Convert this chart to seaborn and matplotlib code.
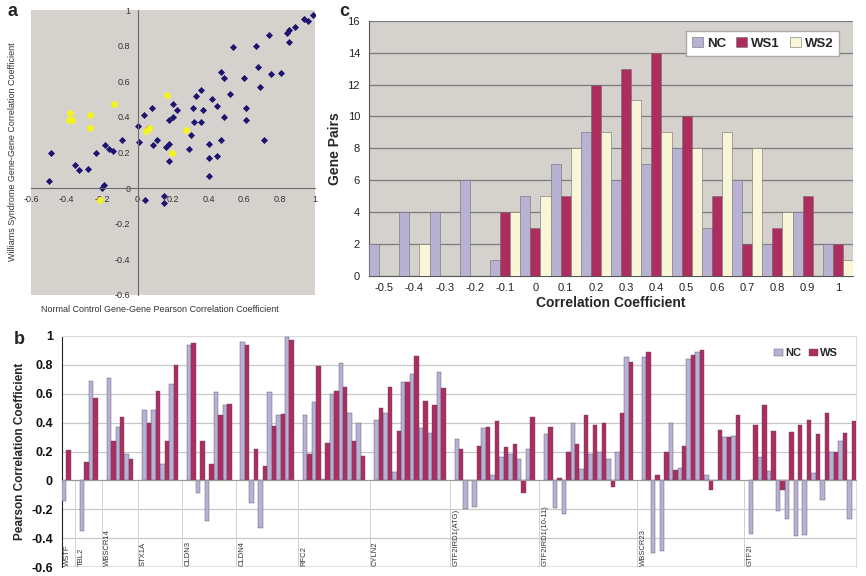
import numpy as np
import pandas as pd
import matplotlib
matplotlib.use("Agg")
import matplotlib.pyplot as plt
import seaborn as sns

sns.set_style("white")
plt.rcParams['font.family'] = ['Liberation Sans', 'DejaVu Sans']

# gene groups of panel b (pairs with each earlier gene)
genes = ["WSTF", "TBL2", "WBSCR14", "STX1A", "CLDN3", "CLDN4", "RFC2", "CYLN2",
         "GTF2IRD1(ATG)", "GTF2IRD1(10-11)", "WBSCR23", "GTF2I"]

nc_vals = [
    [-0.14],
    [-0.35, 0.69],
    [0.71, 0.37, 0.18],
    [0.49, 0.49, 0.11, 0.67],
    [0.94, -0.09, -0.28, 0.61, 0.52],
    [0.96, -0.16, -0.33, 0.61, 0.45, 0.99],
    [0.45, 0.54, 0.01, 0.60, 0.81, 0.47, 0.40],
    [0.42, 0.47, 0.06, 0.68, 0.74, 0.36, 0.33, 0.75],
    [0.29, -0.20, -0.185, 0.36, 0.035, 0.16, 0.18, 0.15, 0.22],
    [0.32, -0.19, -0.235, 0.40, 0.08, 0.18, 0.20, 0.15, 0.20, 0.855],
    [0.855, -0.50, -0.49, 0.40, 0.085, 0.84, 0.89, 0.04, 0.0, 0.30, 0.31],
    [-0.37, 0.165, 0.065, -0.21, -0.27, -0.385, -0.38, 0.05, -0.135, 0.195, 0.275, -0.27],
]
ws_vals = [
    [0.21],
    [0.13, 0.57],
    [0.27, 0.44, 0.15],
    [0.40, 0.62, 0.27, 0.80],
    [0.95, 0.27, 0.11, 0.45, 0.53],
    [0.94, 0.22, 0.10, 0.38, 0.46, 0.97],
    [0.18, 0.79, 0.26, 0.62, 0.645, 0.27, 0.17],
    [0.50, 0.65, 0.34, 0.68, 0.86, 0.55, 0.52, 0.64],
    [0.22, 0.0, 0.24, 0.37, 0.41, 0.23, 0.25, -0.085, 0.44],
    [0.37, 0.015, 0.20, 0.25, 0.45, 0.385, 0.40, -0.045, 0.47, 0.82],
    [0.89, 0.04, 0.195, 0.07, 0.24, 0.87, 0.905, -0.065, 0.35, 0.30, 0.45],
    [0.385, 0.525, 0.34, -0.065, 0.335, 0.385, 0.42, 0.32, 0.47, 0.20, 0.325, 0.41],
]

# panel c histogram counts
bins = ["-0.5", "-0.4", "-0.3", "-0.2", "-0.1", "0", "0.1", "0.2", "0.3", "0.4",
        "0.5", "0.6", "0.7", "0.8", "0.9", "1"]
nc_counts = [2, 4, 4, 6, 1, 5, 7, 9, 6, 7, 8, 3, 6, 2, 4, 2]
ws1_counts = [0, 0, 0, 0, 4, 3, 5, 12, 13, 14, 10, 5, 2, 3, 5, 2]
ws2_counts = [0, 2, 0, 0, 4, 5, 8, 9, 11, 9, 8, 9, 8, 4, 0, 1]

C_NC = "#b3acd9"
C_WS = "#c2185b"
C_WS2 = "#fffbd2"
C_BG = "#d5d1cd"

# slots for panel b: one empty slot between gene groups
rows = []
group_start = []
slot = 0
for gi, g in enumerate(genes):
    group_start.append(slot)
    for a, b in zip(nc_vals[gi], ws_vals[gi]):
        rows.append((slot, "NC", a, g))
        rows.append((slot, "WS", b, g))
        slot += 1
    if gi < len(genes) - 1:
        slot += 1
n_slots = slot
dfb = pd.DataFrame(rows, columns=["slot", "series", "value", "gene"])

fig = plt.figure(figsize=(8.66, 5.76), dpi=100)

# ---------------- panel a ----------------
ax_a = fig.add_axes([31 / 866, 1 - 295 / 576, 284 / 866, 285 / 576])
ax_a.set_facecolor(C_BG)
dfa = pd.DataFrame({
    "NC": [v for g in nc_vals for v in g],
    "WS": [v for g in ws_vals for v in g],
    "grp": [("GTF2I" if genes[i] == "GTF2I" else "other")
            for i, g in enumerate(nc_vals) for _ in g],
})
sns.scatterplot(data=dfa[dfa.grp == "other"], x="NC", y="WS", ax=ax_a,
                color="#1c1470", marker="D", s=13, linewidth=0, legend=False)
sns.scatterplot(data=dfa[dfa.grp == "GTF2I"], x="NC", y="WS", ax=ax_a,
                color="#f4f41c", marker="o", s=24, linewidth=0, legend=False)
ax_a.set_xlim(-0.6, 1.0)
ax_a.set_ylim(-0.6, 1.0)
for s in ["top", "right"]:
    ax_a.spines[s].set_visible(False)
for s in ["left", "bottom"]:
    ax_a.spines[s].set_position(("data", 0))
    ax_a.spines[s].set_color("#6a6a6a")
    ax_a.spines[s].set_linewidth(0.8)
ticks_a = np.round(np.arange(-0.6, 1.01, 0.2), 1)
labs_a = ["0" if t == 0 else ("1" if t == 1 else f"{t:g}") for t in ticks_a]
ax_a.set_xticks(ticks_a, labs_a)
ax_a.set_yticks(ticks_a, labs_a)
ax_a.tick_params(labelsize=6.5, labelcolor="#333333", length=3, color="#6a6a6a",
                 direction="out", width=0.6, pad=2)
ax_a.set_xlabel("")
ax_a.set_ylabel("")
fig.text(160 / 866, 1 - 309 / 576, "Normal Control Gene-Gene Pearson Correlation Coefficient",
         ha="center", va="center", fontsize=6.5, color="#333333")
fig.text(13 / 866, 1 - 152 / 576, "Williams Syndrome Gene-Gene Correlation Coefficient",
         ha="center", va="center", rotation=90, fontsize=6.5, color="#333333")

# ---------------- panel c ----------------
ax_c = fig.add_axes([369 / 866, 1 - 276 / 576, 484 / 866, 255.3 / 576])
ax_c.set_facecolor(C_BG)
dfc = pd.DataFrame({
    "bin": bins * 3,
    "count": nc_counts + ws1_counts + ws2_counts,
    "series": ["NC"] * 16 + ["WS1"] * 16 + ["WS2"] * 16,
})
sns.barplot(data=dfc, x="bin", y="count", hue="series", order=bins,
            hue_order=["NC", "WS1", "WS2"],
            palette={"NC": C_NC, "WS1": C_WS, "WS2": C_WS2},
            width=1.0, gap=0, edgecolor="#6e6e6e", linewidth=0.4,
            errorbar=None, ax=ax_c, zorder=3)
ax_c.set_ylim(0, 16)
ax_c.set_xlim(-0.5, 15.42)
ax_c.set_yticks(range(0, 17, 2))
ax_c.yaxis.grid(True, color="#7c7c7c", linewidth=0.9, zorder=0)
ax_c.set_axisbelow(True)
ax_c.set_xticks(np.arange(-0.5, 16, 1), minor=True)
ax_c.tick_params(axis="x", which="major", length=0, labelsize=8, pad=5, labelcolor="#222222")
ax_c.tick_params(axis="x", which="minor", length=3, color="#555555", direction="out")
ax_c.tick_params(axis="y", length=3, color="#555555", direction="out", labelsize=8,
                 labelcolor="#222222")
for s in ["top", "right"]:
    ax_c.spines[s].set_visible(False)
for s in ["left", "bottom"]:
    ax_c.spines[s].set_color("#555555")
    ax_c.spines[s].set_linewidth(0.8)
ax_c.set_xlabel("Correlation Coefficient", fontsize=10, fontweight="bold", labelpad=2)
ax_c.set_ylabel("Gene Pairs", fontsize=10, fontweight="bold", labelpad=4)
sns.move_legend(ax_c, "upper right", bbox_to_anchor=(0.985, 0.985), ncol=3, title=None,
                frameon=True, fancybox=False, edgecolor="#aaaaaa", framealpha=1,
                prop={"weight": "bold", "size": 9.5}, handlelength=0.8, handleheight=0.8,
                handletextpad=0.3, columnspacing=0.8, borderpad=0.45)

# ---------------- panel b ----------------
ax_b = fig.add_axes([62 / 866, 1 - 567 / 576, 794 / 866, 231 / 576])
sns.barplot(data=dfb, x="slot", y="value", hue="series", order=list(range(n_slots)),
            hue_order=["NC", "WS"], palette={"NC": C_NC, "WS": C_WS},
            width=1.0, gap=0, edgecolor="#5e4a66", linewidth=0.3,
            errorbar=None, ax=ax_b, zorder=3)
ax_b.set_xlim(-0.5, n_slots - 0.5)
ax_b.set_ylim(-0.6, 1.0)
yt = np.round(np.arange(-0.6, 1.01, 0.2), 1)
ax_b.set_yticks(yt, ["0" if t == 0 else ("1" if t == 1 else f"{t:g}") for t in yt])
ax_b.yaxis.grid(True, color="#c8c8c8", linewidth=0.9, zorder=0)
ax_b.set_axisbelow(True)
ax_b.spines["bottom"].set_position(("data", 0))
ax_b.spines["bottom"].set_color("#9a9a9a")
ax_b.spines["bottom"].set_zorder(4)
ax_b.spines["top"].set_color("#dcdcdc")
ax_b.spines["right"].set_color("#dcdcdc")
ax_b.spines["left"].set_color("#222222")
ax_b.axhline(-0.6, color="#dcdcdc", linewidth=1.2, zorder=1)
ax_b.set_xticks(np.arange(-0.5, n_slots, 1), [""] * (n_slots + 1))
ax_b.tick_params(axis="x", length=2, color="#9a9a9a", direction="out", width=0.6)
ax_b.tick_params(axis="y", length=3, color="#222222", direction="out", labelsize=9,
                 labelcolor="#111111")
for t in ax_b.get_yticklabels():
    t.set_fontweight("bold")
seps = [-0.5] + [group_start[i] - 1 for i in range(1, len(genes))]
ax_b.vlines(seps, -0.6, 0, color="#d0d0d0", linewidth=0.7, zorder=1)
for i, g in enumerate(genes):
    ax_b.text(seps[i] + 0.25, -0.592, g, rotation=90, ha="left", va="bottom",
              fontsize=5.5, color="#333333")
ax_b.set_xlabel("")
ax_b.set_ylabel("Pearson Correlation Coefficient", fontsize=8.5, fontweight="bold", labelpad=4)
sns.move_legend(ax_b, "upper right", bbox_to_anchor=(0.99, 0.99), ncol=2, title=None,
                frameon=False, prop={"weight": "bold", "size": 8}, handlelength=0.8,
                handleheight=0.7, handletextpad=0.2, columnspacing=0.7)

# panel letters
fig.text(8 / 866, 1 - 11 / 576, "a", fontsize=13, fontweight="bold", va="center")
fig.text(339 / 866, 1 - 12 / 576, "c", fontsize=13, fontweight="bold", va="center")
fig.text(14 / 866, 1 - 340 / 576, "b", fontsize=13, fontweight="bold", va="center")

fig.savefig("out.png", dpi=100, facecolor="white")
